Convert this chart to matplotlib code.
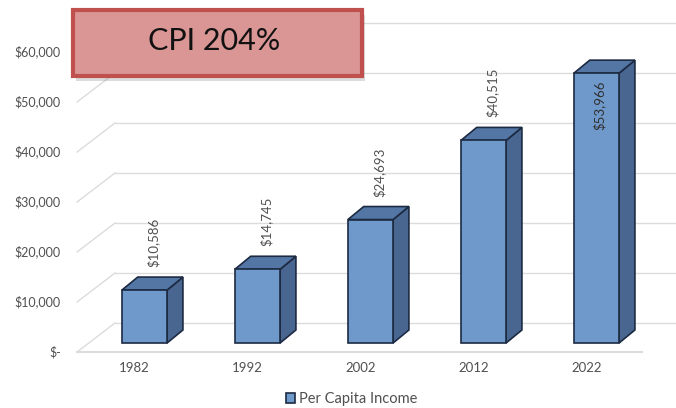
import numpy as np
import matplotlib
matplotlib.use('Agg')
import matplotlib.pyplot as plt
from matplotlib.patches import Polygon, Rectangle

plt.rcParams['font.family'] = ['Lato', 'DejaVu Sans']

# data
years = ['1982', '1992', '2002', '2012', '2022']
income = [10586, 14745, 24693, 40515, 53966]
ticks = [0, 10000, 20000, 30000, 40000, 50000, 60000]
tick_labels = ['$-', '$10,000', '$20,000', '$30,000', '$40,000', '$50,000', '$60,000']
title = 'CPI 204%'
series_name = 'Per Capita Income'

# 3d look
front_c = '#6F98CB'
side_c = '#48668F'
top_c = '#5476A5'
edge_c = '#1C2A42'
grid_c = '#DCDCDC'
txt_c = '#505050'
width = 0.4
dx, dy = 0.14, 2600          # depth of the bars
wall_dx, wall_dy = 0.336, 5800  # depth of the floor / back wall
front_shift = -1800          # front edge of the floor
x_front, x_end = -0.597, 4.40

fig = plt.figure(figsize=(6.76, 4.08), dpi=100)
ax = fig.add_axes([0, 0, 1, 1])
ax.set_xlim(-144.5 / 113, (676 - 144.5) / 113)
ax.set_ylim(-13000, 68600)
ax.axis('off')

# walls
for t, lab in zip(ticks, tick_labels):
    y0 = t + front_shift
    y1 = y0 + wall_dy
    ax.plot([x_front, x_front + wall_dx], [y0, y1], color=grid_c, lw=1, zorder=1)
    ax.plot([x_front + wall_dx, 6], [y1, y1], color=grid_c, lw=1, zorder=1)
    ax.text(-0.74, y0, lab, ha='right', va='center', fontsize=9, color=txt_c)
ax.plot([x_front, x_end], [front_shift, front_shift], color=grid_c, lw=1.5, zorder=1)

x = np.arange(len(years))
bars = ax.bar(x, income, width=width, color=front_c, edgecolor=edge_c, linewidth=1.2,
              zorder=3, label=series_name)
for xi, v in zip(x, income):
    l, r = xi - width / 2, xi + width / 2
    side = Polygon([(r, 0), (r + dx, dy), (r + dx, v + dy), (r, v)], closed=True,
                   facecolor=side_c, edgecolor=edge_c, lw=1.2, zorder=2)
    top = Polygon([(l, v), (r, v), (r + dx, v + dy), (l + dx, v + dy)], closed=True,
                  facecolor=top_c, edgecolor=edge_c, lw=1.2, zorder=2)
    ax.add_patch(side)
    ax.add_patch(top)
    lab = '${:,}'.format(v)
    if v > 50000:
        ax.text(xi + 0.025, v - 1400, lab, rotation=90, ha='center', va='top',
                fontsize=9.5, color='#303030', zorder=4)
    else:
        ax.text(xi + 0.08, v + dy + 2000, lab, rotation=90, ha='center', va='bottom',
                fontsize=9.5, color=txt_c, zorder=4)
    ax.text(xi - 0.09, -5000, years[xi], ha='center', va='center', fontsize=9.5, color=txt_c)

leg = ax.legend(handles=[bars], loc='center', bbox_to_anchor=(0.52, 0.022), frameon=False,
                fontsize=10.5, handlelength=0.6, handleheight=0.6, handletextpad=0.3,
                labelcolor=txt_c, borderpad=0.1)

# title box
sh = Rectangle((0.108 + 0.005, 0.8137 - 0.012), 0.4275, 0.1618, transform=fig.transFigure,
               facecolor='#888888', alpha=0.3, edgecolor='none', zorder=5)
fig.patches.append(sh)
box = Rectangle((0.108, 0.8137), 0.4275, 0.1618, transform=fig.transFigure,
                facecolor='#D99694', edgecolor='#C0504D', lw=3, zorder=6)
fig.patches.append(box)
fig.text(0.317, 0.9, title, ha='center', va='center', fontsize=22, color='#111111', zorder=7)

fig.savefig('out.png', dpi=100)
